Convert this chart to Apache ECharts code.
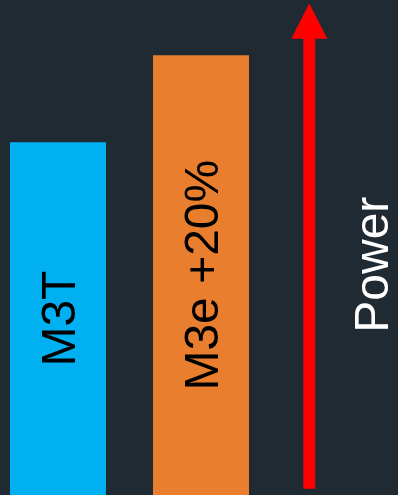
<!DOCTYPE html>
<html>
<head>
<meta charset="utf-8">
<style>
  html, body { margin: 0; padding: 0; background: #1f2a33; }
  #chart { width: 398px; height: 495px; }
</style>
<script src="https://cdn.jsdelivr.net/npm/echarts@6/dist/echarts.min.js"></script>
</head>
<body>
<div id="chart"></div>
<script>
// Model names and their relative power
const categories = ['M3T', 'M3e +20%'];
const powerValues = [100, 124.6];
const barColors = ['#00b0f0', '#e87e2e'];
const axisLabel = 'Power';

const chart = echarts.init(document.getElementById('chart'), null, { renderer: 'canvas' });

const arrowX = 309.3;

chart.setOption({
  backgroundColor: '#1f2a33',
  animation: false,
  grid: { left: 58, width: 143, top: 1, bottom: 0, containLabel: false },
  xAxis: {
    type: 'category',
    data: categories,
    boundaryGap: false,
    show: false
  },
  yAxis: {
    type: 'value',
    min: 0,
    max: 140,
    show: false,
    splitLine: { show: false }
  },
  series: [{
    type: 'bar',
    data: powerValues.map((v, i) => ({ value: v, itemStyle: { color: barColors[i] } })),
    barWidth: 96,
    clip: false,
    label: {
      show: true,
      position: 'inside',
      rotate: 90,
      offset: [0, 4],
      formatter: '{b}',
      color: '#000000',
      fontSize: 48,
      fontFamily: 'Liberation Sans, Arial, sans-serif'
    }
  }],
  graphic: [
    {
      type: 'polygon',
      shape: {
        points: [
          [arrowX, 3.3],
          [arrowX + 18, 38.7],
          [arrowX + 6, 38.7],
          [arrowX + 6, 488.7],
          [arrowX - 6, 488.7],
          [arrowX - 6, 38.7],
          [arrowX - 18, 38.7]
        ]
      },
      style: { fill: '#ff0000' }
    },
    {
      type: 'text',
      x: 374.5,
      y: 264.7,
      rotation: Math.PI / 2,
      style: {
        text: axisLabel,
        fill: '#ffffff',
        fontSize: 48,
        fontFamily: 'Liberation Sans, Arial, sans-serif',
        align: 'center',
        verticalAlign: 'middle'
      }
    }
  ]
});
</script>
</body>
</html>
